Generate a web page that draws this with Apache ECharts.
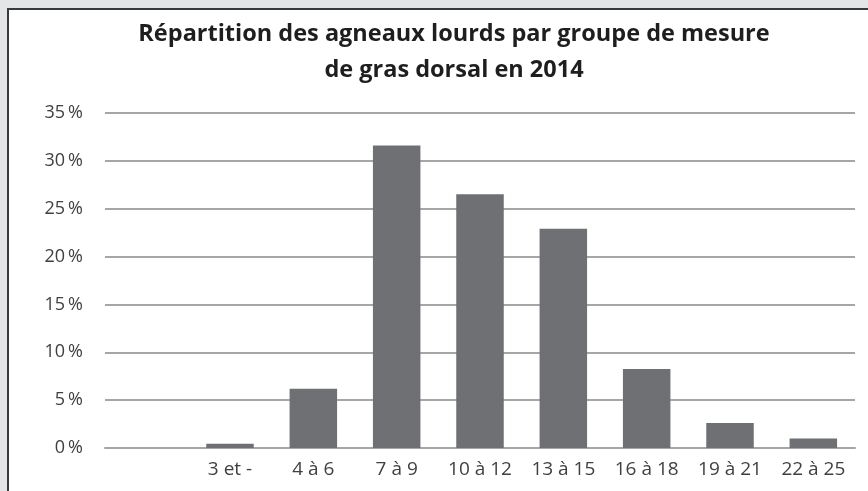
<!DOCTYPE html>
<html><head><meta charset="utf-8">
<script src="https://cdn.jsdelivr.net/npm/echarts@6/dist/echarts.min.js"></script>
<style>html,body{margin:0;padding:0;background:#e4e5e7}#c{width:868px;height:491px}</style>
</head><body><div id="c"></div>
<script>
const categories = ["", "3 et -", "4 à 6", "7 à 9", "10 à 12", "13 à 15", "16 à 18", "19 à 21", "22 à 25"];
const values = [null, 0.45, 6.2, 31.6, 26.5, 22.9, 8.25, 2.6, 1.0];
const titleLines = ["Répartition des agneaux lourds par groupe de mesure", "de gras dorsal en 2014"];

const chart = echarts.init(document.getElementById('c'));
chart.setOption({
  backgroundColor: '#e4e5e7',
  animation: false,
  graphic: [{
    type: 'rect', left: 7, top: 8, z: -10,
    shape: { width: 900, height: 600 },
    style: { fill: '#ffffff', stroke: '#3a3a3a', lineWidth: 2 }
  }],
  title: {
    text: titleLines.join('\n'),
    left: 449, top: 11, textAlign: 'center',
    textStyle: { fontFamily: 'Open Sans', fontWeight: 'bold', fontSize: 23.5, color: '#1e1e1e', lineHeight: 36 }
  },
  grid: { left: 105, right: 13, top: 113, bottom: 43 },
  xAxis: {
    type: 'category', data: categories,
    axisLine: { show: true, lineStyle: { color: '#a6a6a6', width: 2 } },
    axisTick: { show: false },
    axisLabel: { color: '#404040', fontFamily: 'Open Sans', fontSize: 19, margin: 12, interval: 0 }
  },
  yAxis: {
    type: 'value', min: 0, max: 35, interval: 5,
    axisLine: { show: false }, axisTick: { show: false },
    splitLine: { lineStyle: { color: '#a6a6a6', width: 2 } },
    axisLabel: { color: '#404040', fontFamily: 'Open Sans', fontSize: 18, margin: 22, formatter: v => v + '\u2009%' }
  },
  series: [{
    type: 'bar', data: values, barCategoryGap: '43%',
    itemStyle: { color: '#6f7074' }
  }]
});
</script></body></html>
